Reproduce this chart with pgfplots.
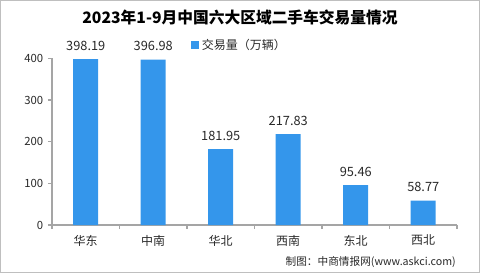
\documentclass[border=0pt]{standalone}
\usepackage{pgfplots}
\pgfplotsset{compat=1.18}
\usepackage{fontspec}
\setmainfont{Noto Sans CJK SC}
\definecolor{barblue}{RGB}{52,150,235}
\definecolor{axgray}{RGB}{165,165,165}
\definecolor{txt}{RGB}{40,40,40}
\begin{document}
\begin{tikzpicture}
\path[use as bounding box] (0,0) rectangle (360pt,204.75pt);
\draw[black!25, line width=0.6pt] (0.3pt,0.3pt) rectangle (359.7pt,204.45pt);
\begin{axis}[
  at={(39pt,36pt)}, anchor=south west,
  scale only axis, width=303.75pt, height=125pt,
  xmin=-0.5, xmax=5.5, ymin=0, ymax=400,
  axis x line*=bottom, axis y line*=left,
  axis line style={axgray, line width=0.8pt},
  every tick/.style={axgray, line width=0.8pt},
  tick align=outside,
  major tick length=3pt, minor tick length=3pt,
  ytick={0,100,200,300,400},
  xtick={0,1,2,3,4,5},
  xticklabels={华东,中南,华北,西南,东北,西北},
  major x tick style={draw=none},
  minor xtick={-0.5,0.5,1.5,2.5,3.5,4.5,5.5},
  /pgf/number format/assume math mode=true,
  yticklabel style={font=\fontsize{8.5}{10}\selectfont, text=txt},
  xticklabel style={font=\fontsize{9}{10}\selectfont, text=txt, yshift=-1pt},
  clip=false,
  ybar, bar width=18.75pt, bar shift=0pt,
  nodes near coords,
  nodes near coords style={font=\fontsize{9.6}{10}\selectfont, text=txt, yshift=3pt,
    /pgf/number format/fixed, /pgf/number format/fixed zerofill, /pgf/number format/precision=2},
  legend style={at={(0.343,1.08)}, anchor=west, draw=none, fill=none,
    font=\fontsize{9}{10}\selectfont, text=txt, inner sep=0pt},
  legend image code/.code={\fill[barblue] (0pt,-3pt) rectangle (6pt,3pt);},
]
\addplot[fill=barblue, draw=none] coordinates {
  (0,398.19) (1,396.98) (2,181.95) (3,217.83) (4,95.46) (5,58.77)
};
\addlegendentry{交易量（万辆）}
\end{axis}
\node[font=\fontsize{11.8}{13}\selectfont\bfseries] at (180pt,192pt) {2023年1-9月中国六大区域二手车交易量情况};
\node[anchor=east, font=\fontsize{8}{9}\selectfont, text=txt, inner sep=0pt] at (342pt,8.5pt) {制图：中商情报网(www.askci.com)};
\end{tikzpicture}
\end{document}
